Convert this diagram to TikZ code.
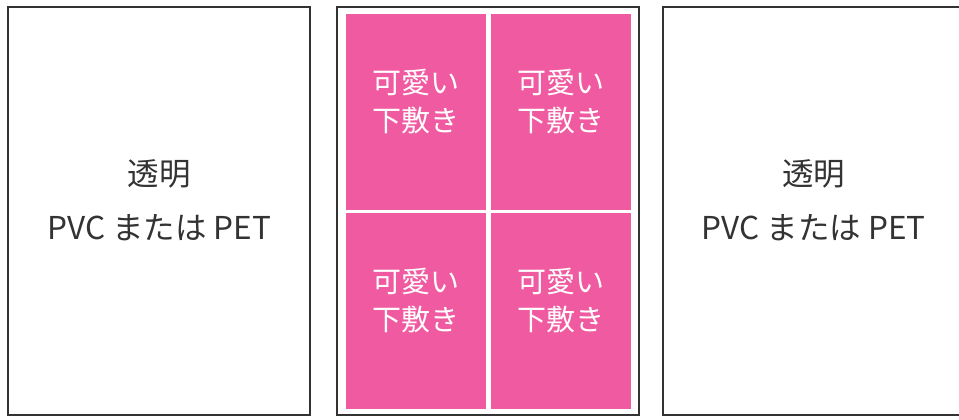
\documentclass[tikz,border=0pt]{standalone}
\usepackage{fontspec}
\setmainfont{Noto Sans CJK JP}
\definecolor{framegray}{RGB}{51,51,51}
\definecolor{padpink}{RGB}{240,90,160}
\tikzstyle{sheet}=[draw=framegray,line width=2pt,minimum width=302pt,minimum height=408pt,inner sep=0pt]
\tikzstyle{pad}=[fill=padpink,minimum width=140pt,minimum height=196pt,inner sep=0pt]
\tikzstyle{caption}=[align=center,inner sep=0pt,text=framegray,font=\fontsize{31.5}{54}\selectfont]
\tikzstyle{padtext}=[align=center,inner sep=0pt,text=white,font=\fontsize{29}{38}\selectfont]

\begin{document}
\begin{tikzpicture}[x=1pt, y=-1pt]
    \useasboundingbox (0,0) rectangle (959,420);
    % First we draw the three sheets
    \foreach \pos/\name in {{(159.25,211)/front}, {(488.15,211)/middle}, {(813.7,211)/back}}
        \node[sheet] (\name) at \pos {};
    % Pink pads inside the middle sheet
    \foreach \pos/\name in {{(416,112)/padA}, {(560.85,112)/padB}, {(416,310.85)/padC}, {(560.85,310.85)/padD}}
    {
        \node[pad] (\name) at \pos {};
        \node[padtext] at ([yshift=10pt]\name.center) {可愛い\\下敷き};
    }
    % Captions for the clear sheets
    \node[caption] at ([yshift=11pt]front.center) {透明\\PVC または PET};
    \node[caption] at ([yshift=11pt]back.center) {透明\\PVC または PET};
\end{tikzpicture}
\end{document}
